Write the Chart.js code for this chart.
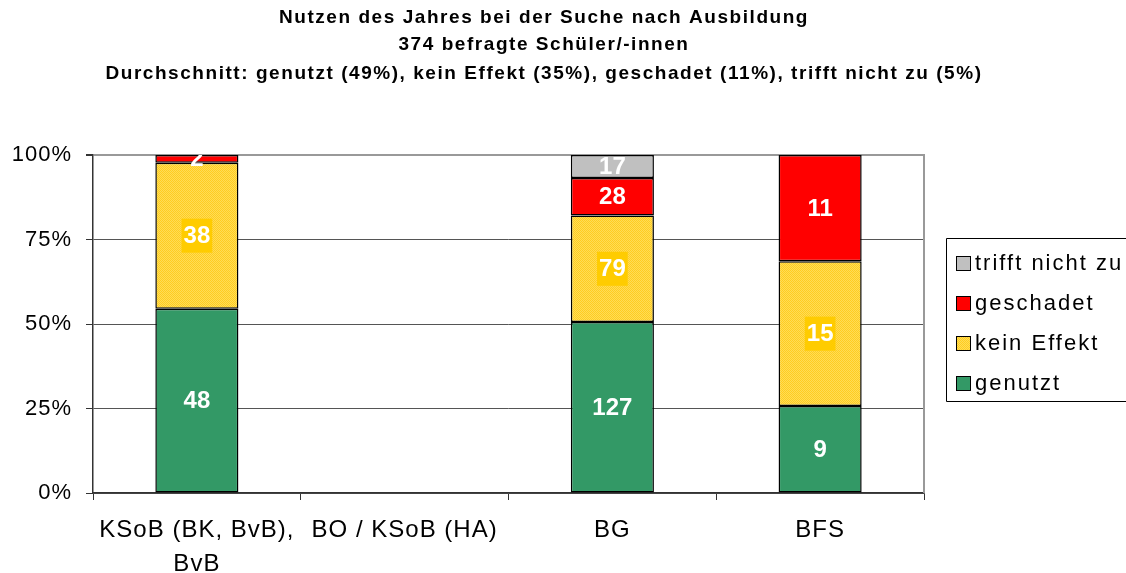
<!DOCTYPE html>
<html>
<head>
<meta charset="utf-8">
<script src="https://cdn.jsdelivr.net/npm/chart.js@4"></script>
<style>
html,body{margin:0;padding:0;background:#fff;}
#wrap{width:1126px;height:573px;position:relative;}
</style>
</head>
<body>
<div id="wrap"><canvas id="c" width="1126" height="573"></canvas></div>
<script>
// ---- data ----
const categories = [["KSoB (BK, BvB),", "BvB"], "BO / KSoB (HA)", "BG", "BFS"];
const seriesNames = ["genutzt", "kein Effekt", "geschadet", "trifft nicht zu"];
const genutzt      = [48, null, 127, 9];
const keinEffekt   = [38, null, 79, 15];
const geschadet    = [2, null, 28, 11];
const trifftNicht  = [null, null, 17, null];
const yTickLabels  = ["0%", "25%", "50%", "75%", "100%"];
const titleLines = [
  "Nutzen des Jahres bei der Suche nach Ausbildung",
  "374 befragte Schüler/-innen",
  "Durchschnitt: genutzt (49%), kein Effekt (35%), geschadet (11%), trifft nicht zu (5%)"
];

const counts = [genutzt, keinEffekt, geschadet, trifftNicht];
const totals = categories.map((_, i) => counts.reduce((s, a) => s + (a[i] || 0), 0));
const pct = arr => arr.map((v, i) => v == null || !totals[i] ? null : v / totals[i] * 100);

const ctx0 = document.getElementById('c').getContext('2d');
const yPat = ctx0.createPattern((() => {
  const p = document.createElement('canvas'); p.width = 2; p.height = 2;
  const g = p.getContext('2d');
  g.fillStyle = '#FFDD55'; g.fillRect(0, 0, 2, 2);
  g.fillStyle = '#FFCC22'; g.fillRect(0, 0, 1, 1); g.fillRect(1, 1, 1, 1);
  return p;
})(), 'repeat');

const colors = ['#339966', yPat, '#FF0000', '#C0C0C0'];
const FONT = '"Liberation Sans", Arial, sans-serif';

const spacingPlugin = {
  id: 'spacing',
  beforeDraw(chart) { chart.ctx.letterSpacing = '1px'; },
  afterDraw(chart) { chart.ctx.letterSpacing = '0px'; }
};

const labelPlugin = {
  id: 'segLabels',
  afterDatasetsDraw(chart) {
    const ctx = chart.ctx, ca = chart.chartArea;
    ctx.save();
    ctx.letterSpacing = '0px';
    ctx.beginPath();
    ctx.rect(ca.left, ca.top, ca.right - ca.left, ca.bottom - ca.top);
    ctx.clip();
    ctx.font = 'bold 24px ' + FONT;
    ctx.textAlign = 'center';
    ctx.textBaseline = 'middle';
    chart.data.datasets.forEach((ds, di) => {
      const meta = chart.getDatasetMeta(di);
      meta.data.forEach((bar, i) => {
        const v = counts[di][i];
        if (v == null) return;
        const y = (bar.y + bar.base) / 2;
        const txt = String(v);
        if (di === 1) {
          const w = ctx.measureText(txt).width + 4;
          ctx.fillStyle = '#FFCC00';
          ctx.fillRect(bar.x - w / 2, y - 17, w, 34);
        }
        ctx.fillStyle = '#FFFFFF';
        ctx.fillText(txt, bar.x, y + 1);
      });
    });
    ctx.restore();
  }
};

const decorPlugin = {
  id: 'decor',
  afterDraw(chart) {
    const ctx = chart.ctx, ca = chart.chartArea;
    ctx.save();
    // right plot border
    ctx.strokeStyle = '#999999';
    ctx.lineWidth = 2;
    ctx.beginPath();
    ctx.moveTo(ca.right, ca.top - 1);
    ctx.lineTo(ca.right, ca.bottom);
    ctx.stroke();
    // title
    ctx.fillStyle = '#000';
    ctx.font = 'bold 19px ' + FONT;
    ctx.letterSpacing = '1.55px';
    ctx.textAlign = 'center';
    ctx.textBaseline = 'middle';
    const ys = [18, 45, 74];
    titleLines.forEach((t, i) => ctx.fillText(t, 544, ys[i]));
    // legend box
    const lx = 946.5, ly = 238.5;
    ctx.letterSpacing = '0px';
    ctx.strokeStyle = '#000';
    ctx.lineWidth = 1;
    ctx.beginPath();
    ctx.moveTo(1130, ly); ctx.lineTo(lx, ly); ctx.lineTo(lx, 401.5); ctx.lineTo(1130, 401.5);
    ctx.stroke();
    ctx.font = '22px ' + FONT;
    ctx.letterSpacing = '2px';
    ctx.textAlign = 'left';
    ctx.textBaseline = 'middle';
    const order = [3, 2, 1, 0];
    order.forEach((di, k) => {
      const cy = 263 + k * 40;
      ctx.fillStyle = di === 1 ? yPat : colors[di];
      ctx.fillRect(956, cy - 7, 14, 14);
      ctx.strokeStyle = '#000';
      ctx.lineWidth = 1;
      ctx.strokeRect(956.5, cy - 6.5, 14, 14);
      ctx.fillStyle = '#000';
      ctx.fillText(seriesNames[di], 975, cy + 1);
    });
    ctx.restore();
  }
};

new Chart(ctx0, {
  type: 'bar',
  data: {
    labels: categories,
    datasets: counts.map((arr, di) => ({
      label: seriesNames[di],
      data: pct(arr),
      backgroundColor: colors[di],
      borderColor: '#000000',
      borderWidth: 1.5,
      borderSkipped: false,
      categoryPercentage: 1.0,
      barPercentage: 0.4
    }))
  },
  options: {
    responsive: false,
    animation: false,
    devicePixelRatio: 1,
    layout: { padding: { top: 155, right: 202, left: 0, bottom: 0 } },
    plugins: {
      legend: { display: false },
      title: { display: false },
      tooltip: { enabled: false }
    },
    scales: {
      x: {
        stacked: true,
        offset: true,
        grid: {
          display: true,
          offset: true,
          drawOnChartArea: false,
          drawTicks: true,
          tickLength: 7,
          color: '#333333'
        },
        border: { display: true, color: '#333333', width: 1.5 },
        ticks: {
          color: '#000',
          font: { family: FONT, size: 24, lineHeight: 1.4 },
          padding: 14,
          maxRotation: 0,
          autoSkip: false
        },
        afterFit(s) { s.height = 80; }
      },
      y: {
        stacked: true,
        min: 0,
        max: 100,
        grid: {
          color: c => (c.tick && c.tick.value === 100) ? '#999999' : '#555555',
          lineWidth: c => (c.tick && c.tick.value === 100) ? 2 : 1,
          tickLength: 7,
          drawTicks: true,
          tickColor: '#333333'
        },
        border: { display: true, color: '#333333', width: 1.5 },
        ticks: {
          stepSize: 25,
          color: '#000',
          padding: 14,
          font: { family: FONT, size: 22 },
          callback: (v) => yTickLabels[Math.round(v / 25)]
        },
        afterFit(s) { s.width = 93; }
      }
    }
  },
  plugins: [spacingPlugin, labelPlugin, decorPlugin]
});
</script>
</body>
</html>
